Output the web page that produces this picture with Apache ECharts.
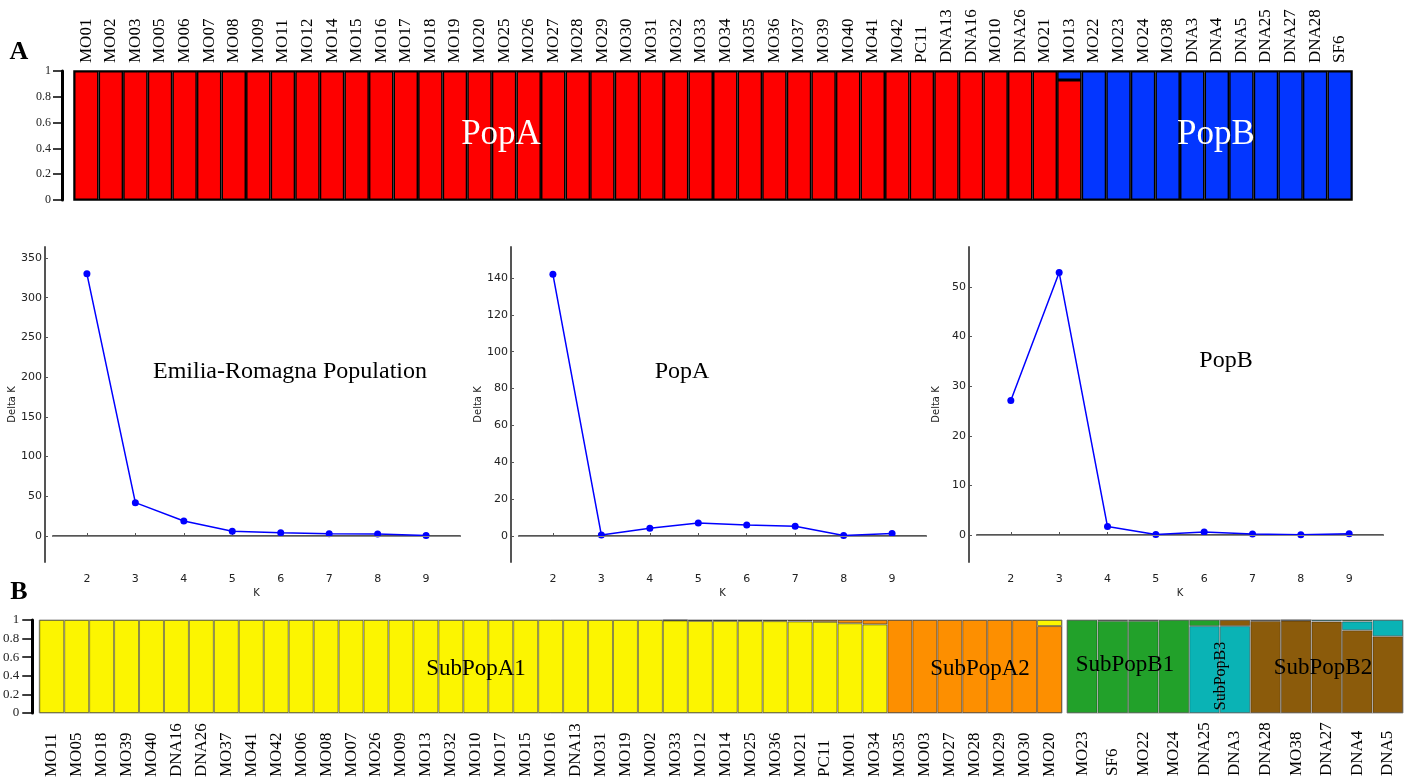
<!DOCTYPE html>
<html><head><meta charset="utf-8">
<script src="https://cdn.jsdelivr.net/npm/echarts@6/dist/echarts.min.js"></script>
<style>html,body{margin:0;padding:0;background:#fff}#c{width:1415px;height:782px}</style>
</head><body><div id="c"></div><script>
// ---------- DATA ----------
const topIds = ['MO01','MO02','MO03','MO05','MO06','MO07','MO08','MO09','MO11','MO12','MO14','MO15','MO16','MO17','MO18','MO19','MO20','MO25','MO26','MO27','MO28','MO29','MO30','MO31','MO32','MO33','MO34','MO35','MO36','MO37','MO39','MO40','MO41','MO42','PC11','DNA13','DNA16','MO10','DNA26','MO21','MO13','MO22','MO23','MO24','MO38','DNA3','DNA4','DNA5','DNA25','DNA27','DNA28','SF6'];
const topPopA = [1,1,1,1,1,1,1,1,1,1,1,1,1,1,1,1,1,1,1,1,1,1,1,1,1,1,1,1,1,1,1,1,1,1,1,1,1,1,1,1,0.93,0,0,0,0,0,0,0,0,0,0,0];
const topPopB = [0,0,0,0,0,0,0,0,0,0,0,0,0,0,0,0,0,0,0,0,0,0,0,0,0,0,0,0,0,0,0,0,0,0,0,0,0,0,0,0,0.07,1,1,1,1,1,1,1,1,1,1,1];

const kValues = [2,3,4,5,6,7,8,9];
const deltaKAll  = [330, 42, 19, 6, 4, 3, 2.5, 0.5];
const deltaKPopA = [142, 0.5, 4.2, 7, 6, 5.3, 0.3, 1.3];
const deltaKPopB = [27.1, 52.9, 1.7, 0.1, 0.6, 0.2, 0.05, 0.25];
const ticksAll  = [0,50,100,150,200,250,300,350];
const ticksPopA = [0,20,40,60,80,100,120,140];
const ticksPopB = [0,10,20,30,40,50];

const subAIds = ['MO11','MO05','MO18','MO39','MO40','DNA16','DNA26','MO37','MO41','MO42','MO06','MO08','MO07','MO26','MO09','MO13','MO32','MO10','MO17','MO15','MO16','DNA13','MO31','MO19','MO02','MO33','MO12','MO14','MO25','MO36','MO21','PC11','MO01','MO34','MO35','MO03','MO27','MO28','MO29','MO30','MO20'];
const subAYellow = [1,1,1,1,1,1,1,1,1,1,1,1,1,1,1,1,1,1,1,1,1,1,1,1,1,0.995,0.99,0.99,0.99,0.988,0.985,0.98,0.965,0.953,0,0,0,0,0,0,0.065];
const subAOrange = [0,0,0,0,0,0,0,0,0,0,0,0,0,0,0,0,0,0,0,0,0,0,0,0,0,0.005,0.01,0.01,0.01,0.012,0.015,0.02,0.035,0.047,1,1,1,1,1,1,0.935];

const subBIds = ['MO23','SF6','MO22','MO24','DNA25','DNA3','DNA28','MO38','DNA27','DNA4','DNA5'];
const subBGreen = [1,0.99,0.99,1,0.065,0,0,0,0,0.015,0];
const subBCyan  = [0,0.01,0.01,0,0.935,0.935,0.01,0.005,0.015,0.095,0.175];
const subBBrown = [0,0,0,0,0,0.065,0.99,0.995,0.985,0.89,0.825];

// ---------- STYLE ----------
const C = {red:'#fe0000', blue:'#0336ff', yellow:'#fcf500', orange:'#fd8f00', green:'#22a12a', cyan:'#0ab3b5', brown:'#8b5b0b'};
const SERIF = '"Liberation Serif","Times New Roman",serif';
const SANS = '"DejaVu Sans",sans-serif';

function layers(clusters){
  const n = clusters[0].values.length, L = clusters.length;
  const out = Array.from({length:L}, () => []);
  for (let i=0;i<n;i++){
    const parts = clusters.map(c => ({v:c.values[i], color:c.color})).filter(p => p.v > 0).sort((a,b) => b.v - a.v);
    for (let l=0;l<L;l++){
      const p = parts[l];
      out[l].push(p ? {value:p.v, itemStyle:{color:p.color}} : '-');
    }
  }
  return out;
}

const grids = [
  {left:74, top:71, width:1278, height:129, show:true, borderColor:'#000', borderWidth:1.5},
  {left:53, top:247, width:407, height:315},
  {left:519, top:247, width:407, height:315},
  {left:977, top:247, width:406, height:315},
  {left:37, top:620, width:1025, height:93, show:true, borderColor:'#999', borderWidth:1},
  {left:1067, top:620, width:336, height:93, show:true, borderColor:'#999', borderWidth:1}
];

function catAxis(grid, data, pos, margin){
  return {type:'category', gridIndex:grid, data:data, position:pos,
    axisLine:{show:false}, axisTick:{show:false}, splitLine:{show:false},
    axisLabel:{interval:0, rotate:90, align:'left', verticalAlign:'middle', margin:margin,
      fontFamily:SERIF, fontSize:17, color:'#000'}};
}
function unitAxis(grid, offset, tickLen, labelMargin, fs, show){
  return {type:'value', gridIndex:grid, min:0, max:1, interval:0.2, offset:offset, show:show,
    splitLine:{show:false},
    axisLine:{show:true, lineStyle:{color:'#000', width:3}},
    axisTick:{show:true, length:tickLen, lineStyle:{color:'#000', width:1.5}},
    axisLabel:{margin:labelMargin, fontFamily:SERIF, fontSize:fs, color:'#222'}};
}
function kAxis(grid){
  return {type:'value', gridIndex:grid, min:1.3, max:9.7, offset:8,
    splitLine:{show:false},
    axisLine:{show:true, lineStyle:{color:'#555', width:2}},
    axisTick:{show:true, inside:true, length:3, customValues:kValues, lineStyle:{color:'#555'}},
    axisLabel:{customValues:kValues, margin:4, fontFamily:SANS, fontSize:11, color:'#222'},
    name:'K', nameLocation:'middle', nameGap:18, nameTextStyle:{fontFamily:SANS, fontSize:10, color:'#222'}};
}
function dkAxis(grid, min, max, ticks){
  return {type:'value', gridIndex:grid, min:min, max:max, offset:8,
    splitLine:{show:false},
    axisLine:{show:true, lineStyle:{color:'#555', width:2}},
    axisTick:{show:true, inside:true, length:3, customValues:ticks, lineStyle:{color:'#555'}},
    axisLabel:{customValues:ticks, margin:3, fontFamily:SANS, fontSize:11, color:'#222'},
    name:'Delta K', nameLocation:'middle', nameGap:28, nameTextStyle:{fontFamily:SANS, fontSize:10, color:'#222'}};
}
function lineSeries(idx, vals){
  return {type:'line', xAxisIndex:idx, yAxisIndex:idx, data:kValues.map((k,i)=>[k, vals[i]]),
    symbol:'circle', symbolSize:7, lineStyle:{color:'#0000ff', width:1.5}, itemStyle:{color:'#0000ff'},
    markLine:{silent:true, symbol:'none', label:{show:false}, lineStyle:{color:'#888', width:1, type:'solid'}, data:[{yAxis:0}]}};
}
function barSeries(idx, layerData, border, bw){
  return layerData.map(d => ({type:'bar', xAxisIndex:idx, yAxisIndex:idx, stack:'s'+idx, data:d,
    barCategoryGap:'0%', barWidth:'100%', itemStyle:{borderColor:border, borderWidth:bw}}));
}

const topLayers = layers([{values:topPopA, color:C.red},{values:topPopB, color:C.blue}]);
const aLayers = layers([{values:subAYellow, color:C.yellow},{values:subAOrange, color:C.orange}]);
const bLayers = layers([{values:subBGreen, color:C.green},{values:subBCyan, color:C.cyan},{values:subBBrown, color:C.brown}]);

function txt(x, y, text, font, color, opts){
  return Object.assign({type:'text', x:x, y:y, z:100, zlevel:1, silent:true,
    style:{text:text, fill:color, font:font, align:'center', verticalAlign:'middle'}}, opts||{});
}

const option = {
  animation:false,
  backgroundColor:'#fff',
  grid:grids,
  xAxis:[
    catAxis(0, topIds, 'top', 8),
    kAxis(1), kAxis(2), kAxis(3),
    catAxis(4, subAIds, 'bottom', 64),
    catAxis(5, subBIds, 'bottom', 63)
  ],
  yAxis:[
    unitAxis(0, 12, 9, 11, 12, true),
    dkAxis(1, -32.7, 363.8, ticksAll),
    dkAxis(2, -14.1, 156.8, ticksPopA),
    dkAxis(3, -5.44, 58.06, ticksPopB),
    unitAxis(4, 7, 10, 13, 13, true),
    unitAxis(5, 0, 0, 0, 13, false)
  ],
  series:[
    ...barSeries(0, topLayers, '#000', 1.5),
    lineSeries(1, deltaKAll), lineSeries(2, deltaKPopA), lineSeries(3, deltaKPopB),
    ...barSeries(4, aLayers, 'rgba(0,0,0,0.45)', 1),
    ...barSeries(5, bLayers, 'rgba(0,0,0,0.35)', 1)
  ],
  graphic:{elements:[
    txt(19, 52, 'A', 'bold 26px '+SERIF, '#000'),
    txt(19, 592, 'B', 'bold 26px '+SERIF, '#000'),
    txt(501, 135, 'PopA', '35px '+SERIF, '#fff'),
    txt(1216, 135, 'PopB', '35px '+SERIF, '#fff'),
    txt(290, 372, 'Emilia-Romagna Population', '24px '+SERIF, '#000'),
    txt(682, 372, 'PopA', '24px '+SERIF, '#000'),
    txt(1226, 361, 'PopB', '24px '+SERIF, '#000'),
    txt(476, 669, 'SubPopA1', '23px '+SERIF, '#000'),
    txt(980, 669, 'SubPopA2', '23px '+SERIF, '#000'),
    txt(1125, 665, 'SubPopB1', '23px '+SERIF, '#000'),
    txt(1323, 668, 'SubPopB2', '23px '+SERIF, '#000'),
    txt(1221, 676, 'SubPopB3', '16px '+SERIF, '#000', {rotation:Math.PI/2})
  ]}
};
const chart = echarts.init(document.getElementById('c'), null, {renderer:'canvas'});
chart.setOption(option);
</script></body></html>
